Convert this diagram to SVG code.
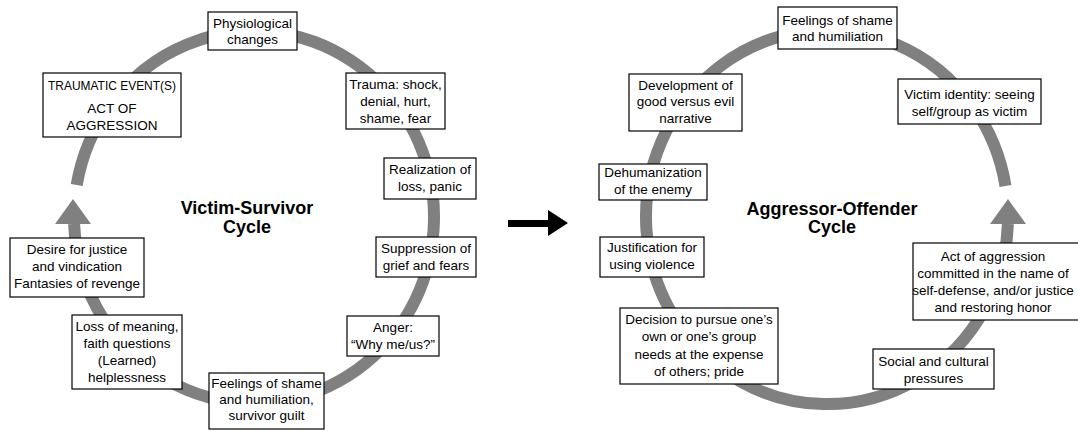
<svg xmlns="http://www.w3.org/2000/svg" width="1078" height="431" viewBox="0 0 1078 431">
<style>
.box{fill:#fff;stroke:#000;stroke-width:1.2}
.t{font-family:"Liberation Sans",Arial,sans-serif;font-size:13.5px;fill:#000;text-anchor:middle}
.title{font-family:"Liberation Sans",Arial,sans-serif;font-size:18px;font-weight:bold;fill:#000;text-anchor:middle}
.ring{fill:none;stroke:#808080;stroke-width:12}
.head{fill:#808080}
</style>
<rect width="1078" height="431" fill="#fff"/>
<g id="connectors">
<path class="ring" d="M 76.7 185 A 180 186 0 1 1 74.1 224"/>
<polygon class="head" points="73,199 55,224 91,224"/>
<path class="ring" d="M 1005.5 186 A 181 187 0 1 0 1007.9 224"/>
<polygon class="head" points="1008,199 990,224 1026,224"/>
<polygon fill="#000" points="508,220 548,220 548,210 568,223 548,236 548,227 508,227"/>
</g>
<g id="title-left"><text class="title" x="247" y="214">Victim-Survivor</text><text class="title" x="247" y="233">Cycle</text></g>
<g id="title-right"><text class="title" x="832" y="215">Aggressor-Offender</text><text class="title" x="832" y="233">Cycle</text></g>
<g id="n-physio"><rect class="box" x="208" y="12" width="89" height="38"/><text class="t" x="252.5" y="28">Physiological</text><text class="t" x="252.5" y="44">changes</text></g>
<g id="n-traumatic"><rect class="box" x="43" y="73" width="138" height="64"/><text class="t" x="112" y="90" textLength="128" lengthAdjust="spacingAndGlyphs">TRAUMATIC EVENT(S)</text><text class="t" x="112" y="113">ACT OF</text><text class="t" x="112" y="130">AGGRESSION</text></g>
<g id="n-trauma"><rect class="box" x="346" y="73" width="99" height="56"/><text class="t" x="395.5" y="89">Trauma: shock,</text><text class="t" x="395.5" y="106">denial, hurt,</text><text class="t" x="395.5" y="123">shame, fear</text></g>
<g id="n-realization"><rect class="box" x="384" y="158" width="92" height="41"/><text class="t" x="430" y="174">Realization of</text><text class="t" x="430" y="191">loss, panic</text></g>
<g id="n-suppression"><rect class="box" x="376" y="237" width="100" height="40"/><text class="t" x="426" y="253">Suppression of</text><text class="t" x="426" y="270">grief and fears</text></g>
<g id="n-anger"><rect class="box" x="347" y="316" width="92" height="40"/><text class="t" x="393" y="332">Anger:</text><text class="t" x="393" y="349">“Why me/us?”</text></g>
<g id="n-shame-left"><rect class="box" x="209" y="373" width="115" height="56"/><text class="t" x="266.5" y="388">Feelings of shame</text><text class="t" x="266.5" y="404">and humiliation,</text><text class="t" x="266.5" y="420">survivor guilt</text></g>
<g id="n-loss"><rect class="box" x="72" y="315" width="110" height="74"/><text class="t" x="127" y="331">Loss of meaning,</text><text class="t" x="127" y="348">faith questions</text><text class="t" x="127" y="365">(Learned)</text><text class="t" x="127" y="382">helplessness</text></g>
<g id="n-desire"><rect class="box" x="10" y="238" width="134" height="59"/><text class="t" x="77" y="254">Desire for justice</text><text class="t" x="77" y="271">and vindication</text><text class="t" x="77" y="288">Fantasies of revenge</text></g>
<g id="n-shame-right"><rect class="box" x="778" y="7" width="119" height="42"/><text class="t" x="837.5" y="25">Feelings of shame</text><text class="t" x="837.5" y="41">and humiliation</text></g>
<g id="n-development"><rect class="box" x="629" y="74" width="113" height="57"/><text class="t" x="685.5" y="90">Development of</text><text class="t" x="685.5" y="106">good versus evil</text><text class="t" x="685.5" y="123">narrative</text></g>
<g id="n-victim-identity"><rect class="box" x="898" y="79" width="143" height="45"/><text class="t" x="969.5" y="99">Victim identity: seeing</text><text class="t" x="969.5" y="116">self/group as victim</text></g>
<g id="n-dehumanization"><rect class="box" x="599" y="164" width="108" height="36"/><text class="t" x="653" y="177">Dehumanization</text><text class="t" x="653" y="194">of the enemy</text></g>
<g id="n-justification"><rect class="box" x="600" y="237" width="104" height="40"/><text class="t" x="652" y="252">Justification for</text><text class="t" x="652" y="269">using violence</text></g>
<g id="n-decision"><rect class="box" x="620" y="308" width="158" height="76"/><text class="t" x="699" y="324">Decision to pursue one’s</text><text class="t" x="699" y="341">own or one’s group</text><text class="t" x="699" y="359">needs at the expense</text><text class="t" x="699" y="376">of others; pride</text></g>
<g id="n-social"><rect class="box" x="873" y="349" width="121" height="40"/><text class="t" x="933.5" y="366">Social and cultural</text><text class="t" x="933.5" y="383">pressures</text></g>
<g id="n-act"><rect class="box" x="913" y="243" width="175" height="77"/><text class="t" x="993" y="261">Act of aggression</text><text class="t" x="993" y="278">committed in the name of</text><text class="t" x="993" y="295">self-defense, and/or justice</text><text class="t" x="993" y="312">and restoring honor</text></g>
</svg>
